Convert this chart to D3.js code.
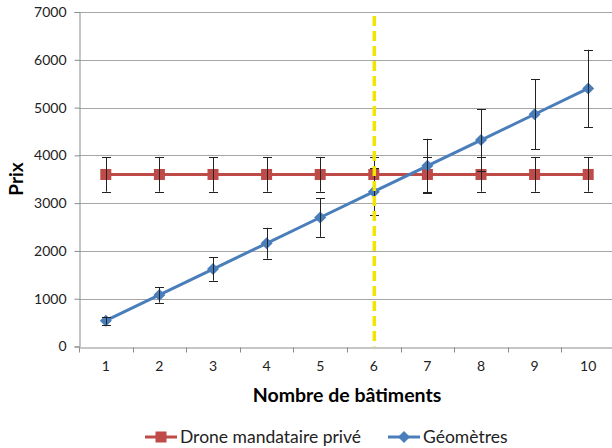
<!DOCTYPE html>
<html><head><meta charset="utf-8">
<script src="https://cdn.jsdelivr.net/npm/d3@7"></script>
<style>body{margin:0;background:#fff}svg{display:block}</style>
</head><body>
<script>
const categories = [1,2,3,4,5,6,7,8,9,10];
const droneValues = [3600,3600,3600,3600,3600,3600,3600,3600,3600,3600];
const droneErrors = [360,360,360,360,360,360,360,360,360,360];
const geoValues = [540,1080,1620,2160,2700,3240,3780,4320,4860,5400];
const geoErrors = [81,162,243,324,405,486,567,648,729,810];
const yTicks = [0,1000,2000,3000,4000,5000,6000,7000];
const markerCategory = 6;
const seriesNames = ["Drone mandataire privé","Géomètres"];

const W=612,H=448;
const font = "Lato, 'Open Sans', sans-serif";
const svg = d3.select("body").append("svg").attr("width",W).attr("height",H);

const x = d3.scaleBand().domain(categories).range([79,615]);
const y = d3.scaleLinear().domain([0,7000]).range([346.5,12]);

// gridlines
svg.append("g").selectAll("line").data(yTicks.slice(1)).join("line")
  .attr("x1",79).attr("x2",W).attr("y1",d=>Math.round(y(d))+0.5).attr("y2",d=>Math.round(y(d))+0.5)
  .attr("stroke","#a6a6a6").attr("stroke-width",1);

// y axis
const yAxis = svg.append("g").attr("transform","translate(79.5,0)")
  .call(d3.axisLeft(y).tickValues(yTicks).tickSize(5).tickPadding(8).tickFormat(d3.format("d")));
yAxis.select(".domain").attr("stroke","#8c8c8c");
yAxis.selectAll(".tick line").attr("stroke","#8c8c8c");
yAxis.selectAll("text").attr("font-family",font).attr("font-size",14).attr("fill","#222");

// x axis
const xAxis = svg.append("g").attr("transform",`translate(0,${Math.round(y(0))+0.5})`)
  .call(d3.axisBottom(x).tickSize(0).tickPadding(14));
xAxis.select(".domain").attr("stroke","#8c8c8c");
xAxis.selectAll("text").attr("font-family",font).attr("font-size",14).attr("fill","#222");
xAxis.append("g").selectAll("line").data(categories).join("line")
  .attr("x1",d=>Math.round(x(d))+0.5).attr("x2",d=>Math.round(x(d))+0.5)
  .attr("y1",0).attr("y2",5).attr("stroke","#8c8c8c");

const cx = d => x(d)+x.bandwidth()/2;

// axis titles
svg.append("text").attr("transform","translate(23,179) rotate(-90)")
  .attr("text-anchor","middle").attr("font-family",font).attr("font-weight","bold")
  .attr("font-size",19).attr("fill","#000").text("Prix");
svg.append("text").attr("x",347).attr("y",402)
  .attr("text-anchor","middle").attr("font-family",font).attr("font-weight","bold")
  .attr("font-size",19.5).attr("fill","#000").text("Nombre de bâtiments");

const red="#be4b48", blue="#4a7ebb";
const line = d3.line().x((d,i)=>cx(categories[i])).y(d=>y(d));

function errorBars(vals, errs){
  const g = svg.append("g").attr("stroke","#222").attr("stroke-width",1);
  vals.forEach((v,i)=>{
    const X = Math.round(cx(categories[i]))+0.5;
    g.append("line").attr("x1",X).attr("x2",X).attr("y1",y(v+errs[i])).attr("y2",y(v-errs[i]));
    [v+errs[i], v-errs[i]].forEach(e=>{
      g.append("line").attr("x1",X-4.5).attr("x2",X+4.5).attr("y1",Math.round(y(e))+0.5).attr("y2",Math.round(y(e))+0.5);
    });
  });
}

svg.append("path").datum(droneValues).attr("d",line).attr("fill","none")
  .attr("stroke",red).attr("stroke-width",3);
svg.append("g").selectAll("rect").data(droneValues).join("rect")
  .attr("x",(d,i)=>cx(categories[i])-5.5).attr("y",d=>y(d)-5.5)
  .attr("width",11).attr("height",11).attr("fill",red);
errorBars(droneValues, droneErrors);

svg.append("path").datum(geoValues).attr("d",line).attr("fill","none")
  .attr("stroke",blue).attr("stroke-width",3);
const diamond = "M0,-6L6,0L0,6L-6,0Z";
svg.append("g").selectAll("path").data(geoValues).join("path")
  .attr("transform",(d,i)=>`translate(${cx(categories[i])},${y(d)})`)
  .attr("d",diamond).attr("fill",blue);
errorBars(geoValues, geoErrors);

// yellow dashed line
svg.append("line").attr("x1",cx(markerCategory)+0.5).attr("x2",cx(markerCategory)+0.5)
  .attr("y1",16).attr("y2",y(0)).attr("stroke","#f2e600").attr("stroke-width",3.5)
  .attr("stroke-dasharray","10,5");

// legend
const lg = svg.append("g").attr("font-family",font).attr("font-size",17.5).attr("fill","#222");
lg.append("line").attr("x1",145).attr("x2",177).attr("y1",437).attr("y2",437).attr("stroke",red).attr("stroke-width",3);
lg.append("rect").attr("x",155.5).attr("y",431.5).attr("width",11).attr("height",11).attr("fill",red);
lg.append("text").attr("x",180).attr("y",443).text(seriesNames[0]);
lg.append("line").attr("x1",388).attr("x2",420).attr("y1",437).attr("y2",437).attr("stroke",blue).attr("stroke-width",3);
lg.append("path").attr("transform","translate(404,437)").attr("d",diamond).attr("fill",blue);
lg.append("text").attr("x",423).attr("y",443).text(seriesNames[1]);
</script>
</body></html>
